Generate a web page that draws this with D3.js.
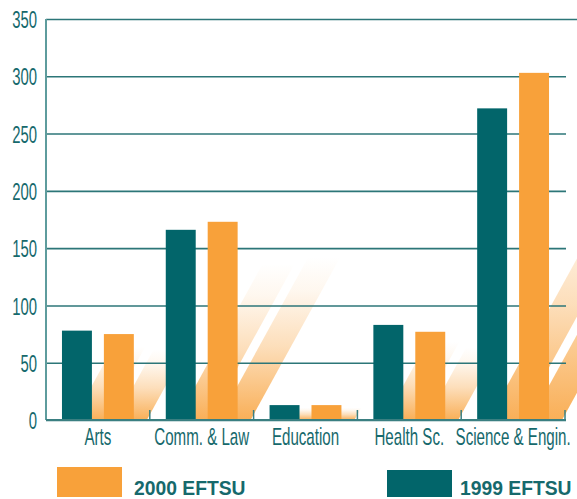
<!DOCTYPE html>
<html>
 <head>
    <title>EFTSU by faculty</title>
    <script src="https://d3js.org/d3.v7.min.js"></script>
    <style>
      body { margin: 0; background: #fff; }
      svg { display: block; }
    </style>
 </head>
 <body>
    <div id="chart"></div>
    <script>
      // data
      var categories = ["Arts", "Comm. & Law", "Education", "Health Sc.", "Science & Engin."];
      var series = ["1999 EFTSU", "2000 EFTSU"];
      var eftsu1999 = [78, 166, 13, 83, 272];
      var eftsu2000 = [75, 173, 13, 77, 303];
      var yTicks = [0, 50, 100, 150, 200, 250, 300, 350];

      var teal = "#02656a";
      var orange = "#f8a13a";
      var textTeal = "#16696c";

      var width = 577;
      var height = 499;
      var plotLeft = 46, plotRight = 565, plotTop = 19, plotBottom = 420;

      var svg = d3.select("#chart")
        .append("svg")
        .attr("width", width)
        .attr("height", height);

      // scales
      var x = d3.scaleBand()
        .domain(categories)
        .range([plotLeft, plotRight]);

      var xs = d3.scaleBand()
        .domain(series)
        .range([0, x.bandwidth()])
        .paddingInner(0.2857)
        .paddingOuter(0.381);

      var y = d3.scaleLinear()
        .domain([0, 350])
        .range([plotBottom, plotTop]);

      var colour = d3.scaleOrdinal()
        .domain(series)
        .range([teal, orange]);

      var rows = [];
      categories.forEach(function (c, i) {
        rows.push({ cat: c, s: series[0], v: eftsu1999[i] });
        rows.push({ cat: c, s: series[1], v: eftsu2000[i] });
      });

      // gradient for the slanted shadows
      var defs = svg.append("defs");
      var grad = defs.append("linearGradient")
        .attr("id", "shade")
        .attr("x1", 0).attr("y1", 1)
        .attr("x2", 0).attr("y2", 0);
      grad.append("stop").attr("offset", 0).attr("stop-color", orange).attr("stop-opacity", 0.85);
      grad.append("stop").attr("offset", 0.45).attr("stop-color", orange).attr("stop-opacity", 0.35);
      grad.append("stop").attr("offset", 0.8).attr("stop-color", orange).attr("stop-opacity", 0.08);
      grad.append("stop").attr("offset", 1).attr("stop-color", orange).attr("stop-opacity", 0);

      // shadows behind the bars
      svg.append("g")
        .selectAll("polygon")
        .data(rows)
        .enter()
        .append("polygon")
        .attr("fill", "url(#shade)")
        .attr("points", function (d) {
          var x0 = x(d.cat) + xs(d.s) + 11;
          var w = xs.bandwidth() + 2;
          var h = (y(0) - y(d.v)) * 0.82;
          var shift = h * 0.55;
          return [
            [x0, y(0)], [x0 + w, y(0)],
            [x0 + w + shift, y(0) - h], [x0 + shift, y(0) - h]
          ].join(" ");
        });

      // gridlines and y labels
      var yAxis = svg.append("g")
        .attr("transform", "translate(" + plotLeft + ",0)")
        .call(d3.axisLeft(y).tickValues(yTicks).tickSize(-(566 - plotLeft)).tickPadding(9));
      yAxis.select(".domain").remove();
      yAxis.selectAll(".tick line")
        .attr("stroke", "#2c7678")
        .attr("stroke-width", 1.6)
        .attr("x2", function (d) { return d === 350 ? width - plotLeft : 566 - plotLeft; });
      yAxis.selectAll(".tick text")
        .attr("fill", textTeal)
        .style("font-family", "'Liberation Sans', Arial, sans-serif")
        .style("font-size", "24px")
        .attr("x", -9 / 0.62)
        .attr("dy", "0.36em")
        .attr("transform", "scale(0.62,1)");

      // y axis line
      svg.append("line")
        .attr("x1", plotLeft).attr("x2", plotLeft)
        .attr("y1", plotTop).attr("y2", plotBottom)
        .attr("stroke", "#5e9c9d")
        .attr("stroke-width", 2);

      // bars
      svg.append("g")
        .selectAll("rect")
        .data(rows)
        .enter()
        .append("rect")
        .attr("x", function (d) { return x(d.cat) + xs(d.s); })
        .attr("y", function (d) { return y(d.v); })
        .attr("width", xs.bandwidth())
        .attr("height", function (d) { return y(0) - y(d.v); })
        .attr("fill", function (d) { return colour(d.s); });

      // x axis with inward ticks at band edges
      svg.append("line")
        .attr("x1", plotLeft).attr("x2", plotRight + 1)
        .attr("y1", plotBottom).attr("y2", plotBottom)
        .attr("stroke", "#3a7f81")
        .attr("stroke-width", 2);
      svg.append("g")
        .selectAll("line")
        .data(categories)
        .enter()
        .append("line")
        .attr("x1", function (d) { return x(d) + x.bandwidth(); })
        .attr("x2", function (d) { return x(d) + x.bandwidth(); })
        .attr("y1", plotBottom)
        .attr("y2", plotBottom - 10)
        .attr("stroke", "#3a7f81")
        .attr("stroke-width", 1.5);

      svg.append("g")
        .selectAll("text")
        .data(categories)
        .enter()
        .append("text")
        .attr("transform", function (d) {
          return "translate(" + (x(d) + x.bandwidth() / 2) + ",445) scale(0.63,1)";
        })
        .attr("text-anchor", "middle")
        .attr("fill", textTeal)
        .style("font-family", "'Liberation Sans', Arial, sans-serif")
        .style("font-size", "24px")
        .text(function (d) { return d; });

      // legend
      var legend = [
        { s: series[1], rx: 57, ry: 467, tx: 134 },
        { s: series[0], rx: 387, ry: 470, tx: 460 }
      ];
      var lg = svg.append("g")
        .selectAll("g")
        .data(legend)
        .enter()
        .append("g");
      lg.append("rect")
        .attr("x", function (d) { return d.rx; })
        .attr("y", function (d) { return d.ry; })
        .attr("width", 65)
        .attr("height", function (d) { return 497 - d.ry; })
        .attr("fill", function (d) { return colour(d.s); });
      lg.append("text")
        .attr("transform", function (d) { return "translate(" + d.tx + ",495) scale(0.92,1)"; })
        .attr("fill", textTeal)
        .style("font-family", "'Liberation Sans', Arial, sans-serif")
        .style("font-weight", "bold")
        .style("font-size", "21px")
        .text(function (d) { return d.s; });
    </script>
 </body>
</html>
